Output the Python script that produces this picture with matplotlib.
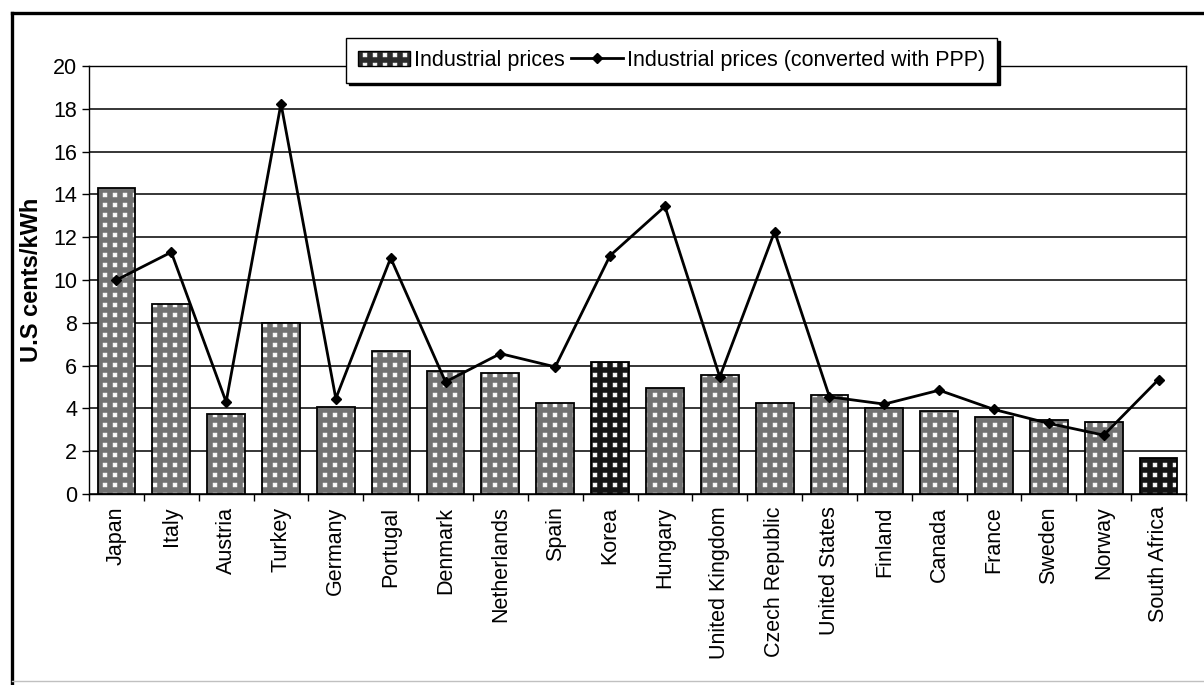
import numpy as np
import matplotlib
matplotlib.use("Agg")
import matplotlib.pyplot as plt
import matplotlib.hatch as mhatch
from matplotlib.path import Path
from matplotlib.lines import Line2D
from matplotlib.patches import Patch
from matplotlib.ticker import FixedLocator

# ---------------- data ----------------
countries = ["Japan", "Italy", "Austria", "Turkey", "Germany", "Portugal",
             "Denmark", "Netherlands", "Spain", "Korea", "Hungary",
             "United Kingdom", "Czech Republic", "United States", "Finland",
             "Canada", "France", "Sweden", "Norway", "South Africa"]
industrial_prices = [14.3, 8.86, 3.76, 7.99, 4.07, 6.67, 5.73, 5.67, 4.26, 6.17,
                     4.93, 5.55, 4.26, 4.62, 4.0, 3.87, 3.6, 3.45, 3.36, 1.66]
ppp_prices = [10.0, 11.3, 4.3, 18.24, 4.46, 11.03, 5.24, 6.56, 5.94, 11.14,
              13.44, 5.47, 12.26, 4.54, 4.2, 4.85, 3.95, 3.3, 2.75, 5.35]
highlighted = ["Korea", "South Africa"]
yticks = list(range(0, 21, 2))
series_labels = ["Industrial prices", "Industrial prices (converted with PPP)"]


# ------------- custom hatch: regular grid of small squares -------------
class _SquareGrid(mhatch.HatchPatternBase):
    def __init__(self, hatch, density):
        self.num_rows = 10 if "." in hatch else 0
        self.num_vertices = self.num_rows ** 2 * 5

    def set_vertices_and_codes(self, vertices, codes):
        n = self.num_rows
        step = 1.0 / n
        h = 0.18 * step
        sq = np.array([[-h, -h], [h, -h], [h, h], [-h, h], [-h, -h]])
        sc = np.array([Path.MOVETO, Path.LINETO, Path.LINETO, Path.LINETO,
                       Path.CLOSEPOLY], dtype=Path.code_type)
        c = (np.arange(n) + 0.5) * step
        gx, gy = np.meshgrid(c, c)
        centers = np.column_stack([gx.ravel(), gy.ravel()])
        vertices[:] = (sq[None, :, :] + centers[:, None, :]).reshape(-1, 2)
        codes[:] = np.tile(sc, n * n)


try:
    mhatch._hatch_types = [(_SquareGrid if t is mhatch.SmallFilledCircles else t)
                           for t in mhatch._hatch_types]
except Exception:
    pass

plt.rcParams["font.family"] = ["Liberation Sans", "DejaVu Sans"]
plt.rcParams["hatch.linewidth"] = 0.6

FS = 15.5
W, H = 1204, 685
fig = plt.figure(figsize=(W / 100, H / 100), dpi=100)
fig.patch.set_facecolor("white")

ax_left, ax_right, ax_top, ax_bottom = 89, 1186, 66, 494
ax = fig.add_axes([ax_left / W, 1 - ax_bottom / H,
                   (ax_right - ax_left) / W, (ax_bottom - ax_top) / H])

x = np.arange(len(countries))
faces = ["#141414" if c in highlighted else "#727272" for c in countries]
bw = 0.69
ax.bar(x, industrial_prices, width=bw, color=faces, edgecolor="white",
       linewidth=0, hatch=".", zorder=2)
ax.bar(x, industrial_prices, width=bw, facecolor="none", edgecolor="black",
       linewidth=1.3, zorder=3)
ax.plot(x, ppp_prices, color="black", lw=2.0, marker="D", ms=5.5,
        markerfacecolor="black", markeredgecolor="black", zorder=4)

ax.set_xlim(-0.5, len(countries) - 0.5)
ax.set_ylim(0, 20)
ax.set_yticks(yticks)
ax.set_yticklabels([str(v) for v in yticks])
ax.set_xticks(x)
ax.set_xticklabels(countries, rotation=90)
ax.xaxis.set_minor_locator(FixedLocator(np.arange(-0.5, len(countries), 1.0)))
ax.tick_params(axis="x", which="major", length=0, pad=9, labelsize=FS)
ax.tick_params(axis="x", which="minor", length=5, width=1, direction="out")
ax.tick_params(axis="y", which="major", length=5, width=1, pad=3.5,
               labelsize=FS, direction="out")

ax.set_axisbelow(True)
ax.yaxis.grid(True, color="black", lw=1.1)
for sp in ax.spines.values():
    sp.set_color("black")
    sp.set_linewidth(1.0)

ax.set_ylabel("U.S cents/kWh", fontsize=17, fontweight="bold")
ax.yaxis.set_label_coords((43 - ax_left) / (ax_right - ax_left), 0.5)

# legend
h_bar = (Patch(facecolor="#2a2a2a", edgecolor="white", linewidth=0, hatch="."),
         Patch(facecolor="none", edgecolor="black", linewidth=1.0))
h_line = Line2D([], [], color="black", lw=2.0, marker="D", ms=5.5)
leg = ax.legend([h_bar, h_line], series_labels, ncol=2, loc="upper left",
                bbox_to_anchor=(346 / W, 1 - 38 / H), bbox_transform=fig.transFigure,
                frameon=True, fancybox=False, shadow={"color": "black", "alpha": 1},
                edgecolor="black", framealpha=1, handlelength=2.4,
                handletextpad=0.2, columnspacing=0.3, borderpad=0.55,
                borderaxespad=0, fontsize=FS)
leg.get_frame().set_linewidth(1.0)
leg.set_zorder(10)

# outer chart frame (left and top thick, bottom faint)
fig.add_artist(Line2D([12 / W, 12 / W], [0, 1 - 13 / H], transform=fig.transFigure,
                      color="black", lw=2.4))
fig.add_artist(Line2D([12 / W, 1], [1 - 13 / H, 1 - 13 / H], transform=fig.transFigure,
                      color="black", lw=2.4))
fig.add_artist(Line2D([12 / W, 1], [1 - 681 / H, 1 - 681 / H], transform=fig.transFigure,
                      color="#c0c0c0", lw=1.0))

fig.savefig("out.png", dpi=100)
